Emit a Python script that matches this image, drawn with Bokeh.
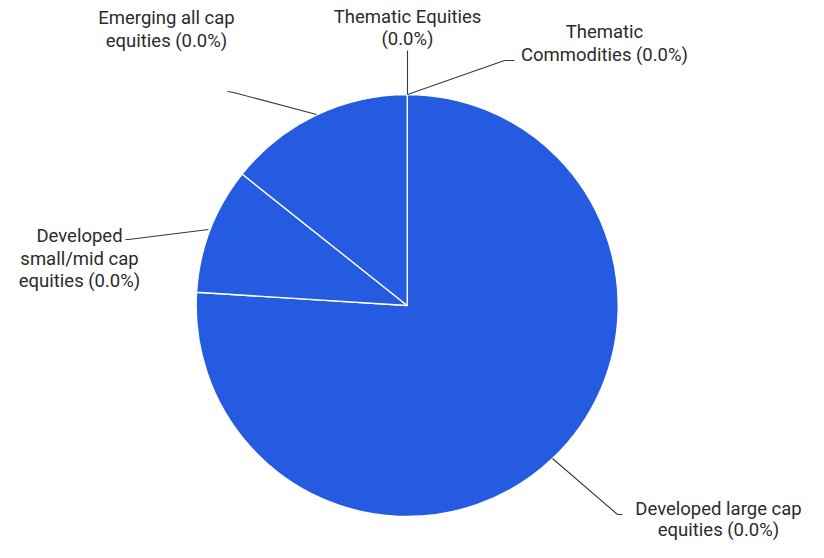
import math
from bokeh.plotting import figure
from bokeh.models import Range1d, ColumnDataSource
from bokeh.core.properties import value
from bokeh.embed import file_html
from bokeh.resources import INLINE

# ---- data ----
categories = [
    "Developed large cap equities",
    "Developed small/mid cap equities",
    "Emerging all cap equities",
    "Thematic Equities",
    "Thematic Commodities",
]
shares = [76.0, 9.7, 14.3, 0.0, 0.0]          # share of the pie (approx. from picture)
label_pcts = ["0.0%", "0.0%", "0.0%", "0.0%", "0.0%"]  # percentages printed in labels

W, H = 808, 542
def px(xs):
    return xs
def py(ys):
    return H - ys

p = figure(width=W, height=H, output_backend="svg", toolbar_location=None,
           x_range=Range1d(0, W), y_range=Range1d(0, H), min_border=0)
p.axis.visible = False
p.grid.visible = False
p.outline_line_color = None
p.background_fill_color = "white"
p.border_fill_color = "white"

cx, cy, R = px(406.7), py(305), 211
BLUE = "#245BE0"

total = sum(shares)
starts, ends, cats = [], [], []
acc = 0.0
for c, s in zip(categories, shares):
    a0 = math.pi / 2 - 2 * math.pi * acc / total
    acc += s
    a1 = math.pi / 2 - 2 * math.pi * acc / total
    if s > 0:  # zero-size wedges are not drawn
        starts.append(a0)
        ends.append(a1)
        cats.append(c)

src = ColumnDataSource(dict(start=starts, end=ends, cat=cats))
p.wedge(x=cx, y=cy, radius=R, radius_units="screen", start_angle="start", end_angle="end",
        direction="clock", source=src, fill_color=BLUE, line_color="white", line_width=1.3)

# leader lines
LC = "#3a3a3a"
leaders = [
    ([552, 617, 622], [458, 514, 514]),          # developed large cap
    ([208, 128, 125], [229, 239, 239]),          # developed small/mid
    ([316, 233, 227], [114, 92, 91]),            # emerging
    ([407, 407], [94, 50]),                      # thematic equities
    ([407, 504, 514], [94, 60, 60]),             # thematic commodities
]
for xs, ys in leaders:
    p.line([px(x) for x in xs], [py(y) for y in ys], line_color=LC, line_width=1.1)

# labels
FONT = value("Roboto")
FS = "18.5px"
TC = "#2b2b2b"
labels = [
    (718, [508, 529], ["Developed large cap", "equities (%s)" % label_pcts[0]]),
    (79, [235, 258, 280], ["Developed", "small/mid cap", "equities (%s)" % label_pcts[1]]),
    (166, [17, 40], ["Emerging all cap", "equities (%s)" % label_pcts[2]]),
    (407, [16, 38], ["Thematic Equities", "(%s)" % label_pcts[3]]),
    (604, [31, 54], ["Thematic", "Commodities (%s)" % label_pcts[4]]),
]
for x, ys, texts in labels:
    p.text(x=[px(x)] * len(ys), y=[py(y) for y in ys], text=texts,
           text_font=FONT, text_font_size=FS, text_color=TC,
           text_align="center", text_baseline="middle")

open("out.html", "w").write(file_html(p, INLINE))
